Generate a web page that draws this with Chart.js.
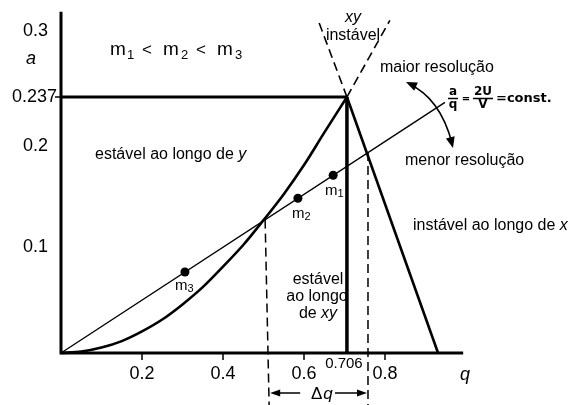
<!DOCTYPE html>
<html>
<head>
<meta charset="utf-8">
<script src="https://cdn.jsdelivr.net/npm/chart.js@4/dist/chart.umd.min.js"></script>
<style>
  html, body { margin: 0; padding: 0; background: #fff; }
  canvas { display: block; }
</style>
</head>
<body>
<canvas id="c" width="572" height="405"></canvas>
<script>
// Stability boundary (x-unstable limit) of the Mathieu diagram, q vs a
const stabQ = [0, 0.05, 0.1, 0.15, 0.2, 0.25, 0.3, 0.35, 0.4, 0.45, 0.5, 0.55, 0.6, 0.65, 0.706];
const stabA = [0, 0.0013, 0.005, 0.011, 0.020, 0.031, 0.045, 0.061, 0.080, 0.100, 0.123, 0.147, 0.174, 0.204, 0.237];

// Right boundary (y-unstable limit)
const rightQ = [0.706, 0.931];
const rightA = [0.237, 0];

// Apex of the stability region
const apexQ = 0.706;
const apexA = 0.237;

// Operating line a/q = 2U/V = const.
const opQ = [0, 0.948];
const opA = [0, 0.232];

// Ions on the operating line
const massNames = ['1', '2', '3'];
const massQ = [0.672, 0.585, 0.306];
const massA = [0.1646, 0.1433, 0.075];

// Dashed continuations of the boundaries above the apex
const extLeftQ = [0.706, 0.635];
const extLeftA = [0.237, 0.308];
const extRightQ = [0.706, 0.812];
const extRightA = [0.237, 0.308];

// Dashed verticals bounding the transmitted window Δq
const winLeftQ = [0.504, 0.514];
const winLeftA = [0.1235, -0.05];
const winRightQ = [0.758, 0.758];
const winRightA = [0.186, -0.05];

// Tick labels
const xTicks = [0.2, 0.4, 0.6, 0.8];
const xTickLabels = ['0.2', '0.4', '0.6', '0.8'];
const yTicks = [0.1, 0.2, 0.3];
const yTickLabels = ['0.1', '0.2', '0.3'];

const pts = (qs, as) => qs.map((q, i) => ({ x: q, y: as[i] }));

function lineSet(qs, as, width, dash) {
  return {
    data: pts(qs, as),
    showLine: true,
    borderColor: '#000',
    borderWidth: width,
    borderDash: dash || [],
    pointRadius: 0,
    fill: false,
    clip: false
  };
}

const curve = lineSet(stabQ, stabA, 2.6);
curve.cubicInterpolationMode = 'monotone';

const FONT = '"Liberation Sans", Arial, sans-serif';

const annotate = {
  id: 'annotate',
  afterDatasetsDraw(chart) {
    const ctx = chart.ctx;
    const xs = chart.scales.x, ys = chart.scales.y;
    const X = v => xs.getPixelForValue(v);
    const Y = v => ys.getPixelForValue(v);
    const x0 = X(0), y0 = Y(0);
    ctx.save();
    ctx.strokeStyle = '#000';
    ctx.fillStyle = '#000';
    ctx.lineCap = 'butt';

    // axes
    ctx.lineWidth = 3;
    ctx.beginPath();
    ctx.moveTo(x0, Y(0.316));
    ctx.lineTo(x0, y0 + 1.5);
    ctx.moveTo(x0 - 1.5, y0);
    ctx.lineTo(X(0.993), y0);
    ctx.stroke();

    // tick marks
    ctx.lineWidth = 1.5;
    ctx.beginPath();
    xTicks.forEach(v => { ctx.moveTo(X(v), y0); ctx.lineTo(X(v), y0 + 7); });
    ctx.moveTo(x0 - 6, Y(apexA));
    ctx.lineTo(x0, Y(apexA));
    ctx.stroke();

    // tick labels
    ctx.textBaseline = 'middle';
    ctx.textAlign = 'center';
    ctx.font = '18px ' + FONT;
    xTicks.forEach((v, i) => ctx.fillText(xTickLabels[i], X(v), y0 + 21));
    ctx.font = '15px ' + FONT;
    ctx.fillText(String(apexQ), X(apexQ) - 3, y0 + 11);
    ctx.font = '18px ' + FONT;
    ctx.textAlign = 'right';
    yTicks.forEach((v, i) => {
      const nudge = v === 0.2 ? 9 : 2;
      ctx.fillText(yTickLabels[i], 48, Y(v) + nudge);
    });
    ctx.fillText(String(apexA), 57, Y(apexA));

    // axis titles
    ctx.textAlign = 'center';
    ctx.font = 'italic 18px ' + FONT;
    ctx.fillText('a', 31, 59);
    ctx.fillText('q', 465, 375);

    // m1 < m2 < m3
    ctx.textAlign = 'left';
    ctx.textBaseline = 'alphabetic';
    const head = [
      ['m', 110, 55, 19], ['1', 127, 59, 13], ['<', 142, 55, 17],
      ['m', 163, 55, 19], ['2', 181, 59, 13], ['<', 196, 55, 17],
      ['m', 217, 55, 19], ['3', 235, 59, 13]
    ];
    head.forEach(([t, x, y, s]) => { ctx.font = s + 'px ' + FONT; ctx.fillText(t, x, y); });

    // mass labels beside the points
    const massLabelPos = [[325, 197], [292, 220], [175, 292]];
    massNames.forEach((n, i) => {
      const [lx, ly] = massLabelPos[i];
      ctx.font = '15px ' + FONT;
      ctx.fillText('m', lx, ly - 2);
      ctx.font = '11px ' + FONT;
      ctx.fillText(n, lx + 12.5, ly);
    });

    // region texts
    ctx.font = '16px ' + FONT;
    ctx.textBaseline = 'middle';
    let w = ctx.measureText('estável ao longo de ').width;
    ctx.fillText('estável ao longo de ', 95, 155);
    ctx.font = 'italic 16px ' + FONT;
    ctx.fillText('y', 95 + w, 155);

    ctx.font = '16px ' + FONT;
    w = ctx.measureText('instável ao longo de ').width;
    ctx.fillText('instável ao longo de ', 413, 226);
    ctx.font = 'italic 16px ' + FONT;
    ctx.fillText('x', 413 + w, 226);

    ctx.font = '16px ' + FONT;
    ctx.fillText('maior resolução', 380, 68);
    ctx.fillText('menor resolução', 405, 161);

    ctx.textAlign = 'center';
    ctx.textBaseline = 'alphabetic';
    ctx.fillText('estável', 318, 284);
    ctx.fillText('ao longo', 317, 301);
    w = ctx.measureText('de ').width;
    ctx.font = 'italic 16px ' + FONT;
    const wxy = ctx.measureText('xy').width;
    const start = 318 - (w + wxy) / 2;
    ctx.textAlign = 'left';
    ctx.font = '16px ' + FONT;
    ctx.fillText('de ', start, 318);
    ctx.font = 'italic 16px ' + FONT;
    ctx.fillText('xy', start + w, 318);

    ctx.textAlign = 'center';
    ctx.textBaseline = 'middle';
    ctx.fillText('xy', 353, 18);
    ctx.font = '16px ' + FONT;
    ctx.fillText('instável', 353, 36);

    // a/q = 2U/V = const.
    const FF = '"DejaVu Sans", sans-serif';
    ctx.font = 'bold 12px ' + FF;
    ctx.textBaseline = 'alphabetic';
    ctx.fillText('a', 453, 95);
    ctx.fillText('q', 453, 108);
    ctx.fillText('2U', 483, 95);
    ctx.fillText('V', 483, 108);
    ctx.lineWidth = 1.4;
    ctx.beginPath();
    ctx.moveTo(448, 98.5); ctx.lineTo(458, 98.5);
    ctx.moveTo(473, 98.5); ctx.lineTo(493, 98.5);
    ctx.stroke();
    ctx.font = 'bold 10px ' + FF;
    ctx.textBaseline = 'middle';
    ctx.fillText('=', 466, 99);
    ctx.textAlign = 'left';
    ctx.font = 'bold 13px ' + FF;
    ctx.fillText('=const.', 496, 99);

    // arrowhead helper
    function head2(tx, ty, dx, dy, len, half) {
      const m = Math.hypot(dx, dy), ux = dx / m, uy = dy / m;
      ctx.beginPath();
      ctx.moveTo(tx, ty);
      ctx.lineTo(tx - ux * len - uy * half, ty - uy * len + ux * half);
      ctx.lineTo(tx - ux * len + uy * half, ty - uy * len - ux * half);
      ctx.closePath();
      ctx.fill();
    }

    // curved resolution arrow
    ctx.lineWidth = 1.6;
    ctx.beginPath();
    ctx.moveTo(409, 84);
    ctx.quadraticCurveTo(440, 98, 452, 143);
    ctx.stroke();
    head2(406, 82, -31, -14, 11, 4.5);
    head2(453, 148, 12, 47, 11, 4.5);

    // Δq arrow
    const ay = y0 + 40;
    const lx = X(winLeftQ[1]), rx = X(winRightQ[1]);
    ctx.lineWidth = 1.5;
    ctx.beginPath();
    ctx.moveTo(lx + 6, ay); ctx.lineTo(lx + 31, ay);
    ctx.moveTo(rx - 33, ay); ctx.lineTo(rx - 6, ay);
    ctx.stroke();
    head2(lx + 1, ay, -1, 0, 10, 3.5);
    head2(rx - 1, ay, 1, 0, 10, 3.5);
    ctx.textAlign = 'left';
    ctx.font = '17px ' + FONT;
    const wd = ctx.measureText('Δ').width;
    ctx.fillText('Δ', 311, ay + 1);
    ctx.font = 'italic 17px ' + FONT;
    ctx.fillText('q', 311 + wd + 1, ay + 1);

    ctx.restore();
  }
};

new Chart(document.getElementById('c'), {
  type: 'scatter',
  data: {
    datasets: [
      curve,
      lineSet(rightQ, rightA, 2.6),
      lineSet([0, apexQ], [apexA, apexA], 3),
      lineSet([apexQ, apexQ], [apexA, 0], 3.5),
      lineSet(opQ, opA, 1.4),
      lineSet(extLeftQ, extLeftA, 1.6, [9, 5]),
      lineSet(extRightQ, extRightA, 1.6, [9, 5]),
      lineSet(winLeftQ, winLeftA, 1.5, [9, 5]),
      lineSet(winRightQ, winRightA, 1.5, [9, 5]),
      {
        data: pts(massQ, massA),
        showLine: false,
        pointRadius: 4.5,
        pointBackgroundColor: '#000',
        pointBorderColor: '#000',
        pointBorderWidth: 0,
        clip: false
      }
    ]
  },
  options: {
    responsive: false,
    animation: false,
    devicePixelRatio: 1,
    layout: { padding: { left: 61, right: 106, top: 29, bottom: 52 } },
    plugins: { legend: { display: false }, tooltip: { enabled: false }, title: { display: false } },
    scales: {
      x: { type: 'linear', min: 0, max: 1, display: false },
      y: { type: 'linear', min: 0, max: 0.3, display: false }
    }
  },
  plugins: [annotate]
});
</script>
</body>
</html>
